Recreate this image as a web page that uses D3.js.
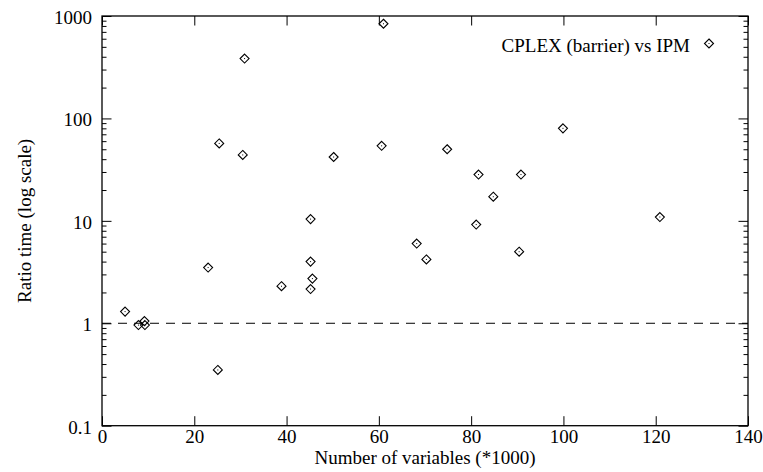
<!DOCTYPE html>
<html>
<head>
<meta charset="utf-8">
<script src="https://cdn.jsdelivr.net/npm/d3@7"></script>
<style>
  html, body { margin: 0; padding: 0; background: #fff; }
  svg { display: block; }
  text { font-family: "Liberation Serif", "Times New Roman", serif; font-size: 19px; fill: #000; }
</style>
</head>
<body>
<svg id="chart" width="763" height="472"></svg>
<script>
// Number of variables (*1000)
var nVars = [5.0, 7.9, 9.2, 9.3, 23.0, 25.1, 25.4, 30.5, 30.9, 38.9,
             45.2, 45.2, 45.6, 45.2, 50.2, 60.6, 61.0, 68.2, 70.3, 74.8,
             81.1, 81.6, 84.8, 90.4, 90.8, 99.9, 120.9];
// Ratio time CPLEX (barrier) / IPM
var ratios = [1.3, 0.96, 1.05, 0.96, 3.5, 0.35, 57, 44, 384, 2.3,
              10.4, 4.0, 2.73, 2.16, 42, 54, 840, 6.0, 4.2, 50,
              9.2, 28.3, 17.2, 5.0, 28.3, 80, 10.9];
var xTicks = [0, 20, 40, 60, 80, 100, 120, 140];
var yTicks = [0.1, 1, 10, 100, 1000];
var refLine = 1;
var seriesName = "CPLEX (barrier) vs IPM";

var margin = { left: 102, right: 15, top: 16, bottom: 46.3 };
var W = 763, H = 472;

var svg = d3.select("#chart");

var x = d3.scaleLinear().domain([0, 140]).range([margin.left, W - margin.right]);
var y = d3.scaleLog().domain([0.1, 1000]).range([H - margin.bottom, margin.top]);

// minor log ticks 2..9 per decade
var minor = [];
[0.1, 1, 10, 100].forEach(function (d) {
    for (var k = 2; k <= 9; k++) minor.push(d * k);
});

var x0 = x.range()[0], x1 = x.range()[1];
var y0 = y.range()[0], y1 = y.range()[1];

//Bottom axis with labels, ticks pointing inside
var bottom = svg.append("g")
    .attr("transform", "translate(0," + y0 + ")")
    .call(d3.axisBottom(x).tickValues(xTicks).tickSize(-9.5).tickSizeOuter(0).tickFormat(d3.format("d")));
bottom.selectAll("text").attr("y", 17.5).attr("dy", null);

//Top axis, ticks only
svg.append("g")
    .attr("transform", "translate(0," + y1 + ")")
    .call(d3.axisTop(x).tickValues(xTicks).tickSize(-9.5).tickSizeOuter(0).tickFormat(""));

//Left axis
var left = svg.append("g")
    .attr("transform", "translate(" + x0 + ",0)")
    .call(d3.axisLeft(y).tickValues(yTicks).tickSize(-9.5).tickSizeOuter(0).tickFormat(function (d) { return String(d); }));
left.selectAll("text").attr("x", -10).attr("dy", null).attr("y", 7.5);
svg.append("g")
    .attr("transform", "translate(" + x0 + ",0)")
    .call(d3.axisLeft(y).tickValues(minor).tickSize(-4.5).tickSizeOuter(0).tickFormat(""));

//Right axis
svg.append("g")
    .attr("transform", "translate(" + x1 + ",0)")
    .call(d3.axisRight(y).tickValues(yTicks).tickSize(-9.5).tickSizeOuter(0).tickFormat(""));
svg.append("g")
    .attr("transform", "translate(" + x1 + ",0)")
    .call(d3.axisRight(y).tickValues(minor).tickSize(-4.5).tickSizeOuter(0).tickFormat(""));

svg.selectAll(".domain").remove();
svg.selectAll(".tick line").attr("stroke", "#000").attr("stroke-width", 1);
svg.selectAll(".tick text").style("font-family", "'Liberation Serif', serif").style("font-size", "19px").attr("fill", "#000");

//Frame
svg.append("rect")
    .attr("x", x0).attr("y", y1)
    .attr("width", x1 - x0).attr("height", y0 - y1)
    .attr("fill", "none").attr("stroke", "#000").attr("stroke-width", 1.3);

//Reference line at ratio = 1
svg.append("line")
    .attr("x1", x0).attr("x2", x1)
    .attr("y1", y(refLine)).attr("y2", y(refLine))
    .attr("stroke", "#000").attr("stroke-width", 1)
    .attr("stroke-dasharray", "9,7");

//Diamond markers with centre dot
var diamond = "M0,-4.5L4.5,0L0,4.5L-4.5,0Z";
function drawMarker(g) {
    g.append("path").attr("d", diamond).attr("fill", "none").attr("stroke", "#000").attr("stroke-width", 1.1);
    g.append("rect").attr("x", -0.5).attr("y", -0.5).attr("width", 1).attr("height", 1).attr("fill", "#000");
}

var points = nVars.map(function (v, i) { return { x: v, y: ratios[i] }; });
svg.append("g").selectAll("g")
    .data(points)
    .enter().append("g")
    .attr("transform", function (d) { return "translate(" + x(d.x) + "," + y(d.y) + ")"; })
    .each(function () { drawMarker(d3.select(this)); });

//Legend
svg.append("text")
    .attr("x", 690).attr("y", 51.5)
    .attr("text-anchor", "end")
    .text(seriesName);
drawMarker(svg.append("g").attr("transform", "translate(709,43.5)"));

//Axis titles
svg.append("text")
    .attr("x", (x0 + x1) / 2).attr("y", 464)
    .attr("text-anchor", "middle")
    .text("Number of variables (*1000)");

svg.append("text")
    .attr("transform", "translate(30.5," + ((y0 + y1) / 2) + ") rotate(-90)")
    .attr("text-anchor", "middle")
    .text("Ratio time (log scale)");
</script>
</body>
</html>
